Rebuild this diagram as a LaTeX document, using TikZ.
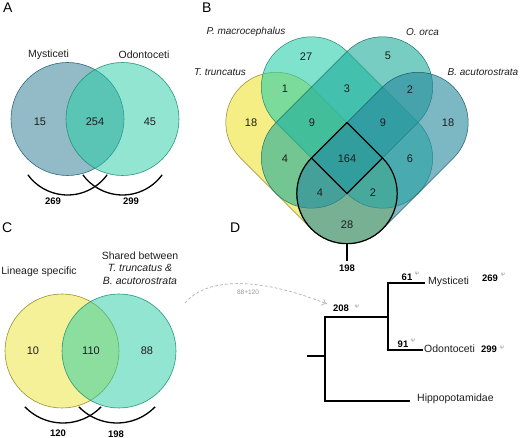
\documentclass[tikz,border=0pt]{standalone}
\usepackage{fontspec}
\setmainfont{Liberation Sans}
\usetikzlibrary{arrows.meta,calc}
\definecolor{cblue}{RGB}{38,120,145}
\definecolor{caqua}{RGB}{36,205,165}
\definecolor{cteal}{RGB}{30,172,155}
\definecolor{cyel}{RGB}{237,228,50}
\definecolor{cbluev}{RGB}{38,135,158}
\definecolor{caquav}{RGB}{42,207,170}
\definecolor{txt}{RGB}{30,30,30}
\def\VR{50.2}
\begin{document}
\begin{tikzpicture}[x=1pt,y=-1pt,
  num/.style={font=\fontsize{11}{13}\selectfont, text=txt, inner sep=0},
  lab/.style={font=\fontsize{10.5}{12.5}\selectfont, text=txt, inner sep=0},
  sp/.style={font=\fontsize{10}{12}\selectfont\itshape, text=txt, inner sep=0},
  bnum/.style={font=\fontsize{9.5}{11}\selectfont\bfseries, inner sep=0},
  panel/.style={font=\fontsize{14}{16}\selectfont, anchor=base west, inner sep=0},
  psi/.style={font=\fontsize{5}{6}\selectfont, text=black!45, inner sep=0},
  brace/.style={line width=1.3pt},
  branch/.style={line width=1.1pt},
  vA/.style={fill opacity=0.5, draw opacity=0.9, line width=0.6pt},
  vB/.style={fill opacity=0.6, draw opacity=0.9, line width=0.5pt},
  boldline/.style={line width=1.2pt, line join=round}
]
\useasboundingbox (0,0) rectangle (520,438);
\fill[white] (0,0) rectangle (520,438);

% ---------------- Panel A ----------------
\node[panel] (pA) at (3,13) {A};
\coordinate (cA1) at (67.5,119);
\coordinate (cA2) at (122.5,119);
\path[vA, fill=cblue, draw=cblue!80!black] (cA1) circle[radius=56.5];
\path[vA, fill=caqua, draw=caqua!70!black] (cA2) circle[radius=56.5];
\node[lab] (lMys) at (48.5,55) {Mysticeti};
\node[lab] (lOdo) at (144,55) {Odontoceti};
\node[num] (a15) at (40,122) {15};
\node[num] (a254) at (95,122) {254};
\node[num] (a45) at (150,122) {45};
\coordinate (aA1) at (67.5,146);
\coordinate (aA2) at (122.5,146);
\draw[brace] ($(aA1)+(36:49)$) arc[start angle=36, end angle=144, radius=49];
\draw[brace] ($(aA2)+(36:49)$) arc[start angle=36, end angle=144, radius=49];
\node[bnum] (a269) at (53,201) {269};
\node[bnum] (a299) at (131,201) {299};

% ---------------- Panel B ----------------
\node[panel] (pB) at (202,13) {B};
\coordinate (Tu) at (276,122.5);  \coordinate (Tl) at (347,193.5);
\coordinate (Pu) at (311.5,87);   \coordinate (Pl) at (382.5,158);
\coordinate (Ou) at (382.5,87);   \coordinate (Ol) at (311.5,158);
\coordinate (Bu) at (418,122.5);  \coordinate (Bl) at (347,193.5);
% T. truncatus
\path[vB, fill=cyel, draw=cyel!55!black]
  ($(Tu)+(135:\VR)$) -- ($(Tl)+(135:\VR)$) arc[start angle=135, end angle=-45, radius=\VR]
  -- ($(Tu)+(-45:\VR)$) arc[start angle=-45, end angle=-225, radius=\VR] -- cycle;
% P. macrocephalus
\path[vB, fill=caquav, draw=caquav!60!black]
  ($(Pu)+(135:\VR)$) -- ($(Pl)+(135:\VR)$) arc[start angle=135, end angle=-45, radius=\VR]
  -- ($(Pu)+(-45:\VR)$) arc[start angle=-45, end angle=-225, radius=\VR] -- cycle;
% O. orca
\path[vB, fill=cteal, draw=cteal!60!black]
  ($(Ou)+(45:\VR)$) -- ($(Ol)+(45:\VR)$) arc[start angle=45, end angle=225, radius=\VR]
  -- ($(Ou)+(225:\VR)$) arc[start angle=225, end angle=405, radius=\VR] -- cycle;
% B. acutorostrata
\path[vB, fill=cbluev, draw=cbluev!60!black]
  ($(Bu)+(45:\VR)$) -- ($(Bl)+(45:\VR)$) arc[start angle=45, end angle=225, radius=\VR]
  -- ($(Bu)+(225:\VR)$) arc[start angle=225, end angle=405, radius=\VR] -- cycle;
% bold outline of shared T & B
\coordinate (dT) at (347,122.5);
\coordinate (dL) at (311.5,158);
\coordinate (dR) at (382.5,158);
\coordinate (dB) at (347,193.5);
\draw[boldline] (dT) -- (dL) arc[start angle=225, end angle=-45, radius=\VR] -- cycle;
\draw[boldline] (dL) -- (dB) -- (dR);
\coordinate (stubT) at (347,243.7);
\coordinate (stubB) at (347,261);
\draw[line width=1.2pt] (stubT) -- (stubB);
\node[bnum] (b198) at (347,268) {198};
% species labels
\node[sp] (sP) at (246,32) {P. macrocephalus};
\node[sp] (sO) at (422.5,32) {O. orca};
\node[sp] (sT) at (220,72) {T. truncatus};
\node[sp] (sB) at (483,72) {B. acutorostrata};
% numbers
\node[num] (n27) at (306,57) {27};
\node[num] (n5) at (388,56) {5};
\node[num] (n18a) at (251,123) {18};
\node[num] (n1) at (285,89) {1};
\node[num] (n3) at (347,89) {3};
\node[num] (n2a) at (410,90) {2};
\node[num] (n18b) at (448,123) {18};
\node[num] (n9a) at (312,123) {9};
\node[num] (n9b) at (383,123) {9};
\node[num] (n4a) at (285,159) {4};
\node[num] (n164) at (347,159) {164};
\node[num] (n6) at (410,159) {6};
\node[num] (n4b) at (320,193) {4};
\node[num] (n2b) at (373,193) {2};
\node[num] (n28) at (347,225) {28};

% ---------------- Panel C ----------------
\node[panel] (pC) at (2,233) {C};
\coordinate (cC1) at (62,351);
\coordinate (cC2) at (119,351);
\path[vA, fill=cyel, draw=cyel!60!black] (cC1) circle[radius=57];
\path[vA, fill=caqua, draw=caqua!70!black] (cC2) circle[radius=57];
\node[lab] (lLin) at (39,272) {Lineage specific};
\node[lab, align=center] (lSh) at (140,268) {Shared between\\\textit{T. truncatus \&}\\\textit{B. acutorostrata}};
\node[num] (c10) at (33,351) {10};
\node[num] (c110) at (91,351) {110};
\node[num] (c88) at (147,351) {88};
\coordinate (aC1) at (63,370);
\coordinate (aC2) at (117,370);
\draw[brace] ($(aC1)+(44:53)$) arc[start angle=44, end angle=136, radius=53];
\draw[brace] ($(aC2)+(44:53)$) arc[start angle=44, end angle=136, radius=53];
\node[bnum] (c120) at (58,433) {120};
\node[bnum] (c198) at (116,434) {198};

% ---------------- Panel D ----------------
\node[panel] (pD) at (230,233) {D};
\coordinate (ds) at (185,303);
\coordinate (de) at (327,304);
\draw[dash pattern=on 3pt off 2pt, black!30, line width=0.7pt, -{To[length=5pt,width=7pt]}]
  (ds) .. controls (208,276) and (262,278) .. (de);
\node[font=\fontsize{6.5}{7}\selectfont, text=black!40, inner sep=0] (sum) at (248,292) {88+120};

\coordinate (r0) at (307,356);
\coordinate (r1) at (325,356);
\coordinate (ra) at (325,317);
\coordinate (rh) at (325,401);
\coordinate (ia) at (388,317);
\coordinate (im) at (388,283);
\coordinate (io) at (388,350);
\coordinate (tm) at (425,283);
\coordinate (to) at (423,350);
\coordinate (th) at (410,401);
\draw[branch] (r0) -- (r1);
\draw[branch] (ia) -- (ra) -- (rh) -- (th);
\draw[branch] (tm) -- (im) -- (io) -- (to);
\node[lab, anchor=west] (tMys) at (428,282) {Mysticeti};
\node[lab, anchor=west] (tOdo) at (424,349) {Odontoceti};
\node[lab, anchor=west] (tHip) at (417,399) {Hippopotamidae};
\node[bnum] (d61) at (407,277) {61};
\node[psi] (p61) at (417,274) {Ψ};
\node[bnum] (d91) at (403,344) {91};
\node[psi] (p91) at (413,341) {Ψ};
\node[bnum] (d208) at (341,308) {208};
\node[psi] (p208) at (357,307) {Ψ};
\node[bnum] (d269) at (490,278) {269};
\node[psi] (p269) at (503,275) {Ψ};
\node[bnum] (d299) at (489,349) {299};
\node[psi] (p299) at (502,348) {Ψ};
\end{tikzpicture}
\end{document}
